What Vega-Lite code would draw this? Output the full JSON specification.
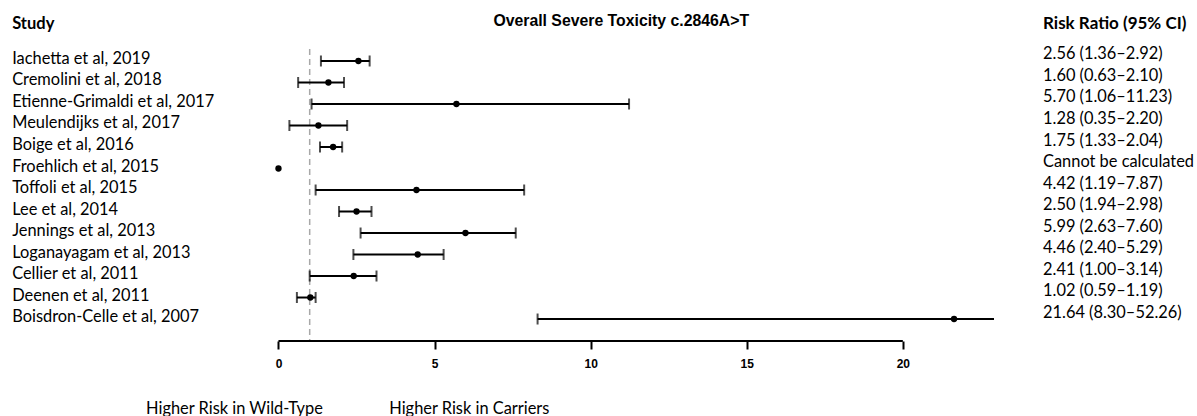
{
  "$schema": "https://vega.github.io/schema/vega-lite/v6.json",
  "padding": {"left": 12, "top": 12, "right": 0, "bottom": 0},
  "spacing": 10,
  "background": "white",
  "config": {
    "view": {"stroke": null},
    "text": {"font": "Lato", "fontSize": 16.4, "color": "black"},
    "axisX": {"domain": false, "grid": false, "ticks": true, "tickSize": 8, "tickWidth": 2, "tickColor": "black", "labelFont": "Liberation Sans", "labelFontSize": 12, "labelFontWeight": "bold", "labelColor": "black", "labelPadding": 9, "title": null}
  },
  "datasets": {
    "studies": [
      {"study": "Iachetta et al, 2019", "est": 2.56, "lo": 1.36, "hi": 2.92, "rr": "2.56 (1.36–2.92)"},
      {"study": "Cremolini et al, 2018", "est": 1.60, "lo": 0.63, "hi": 2.10, "rr": "1.60 (0.63–2.10)"},
      {"study": "Etienne-Grimaldi et al, 2017", "est": 5.70, "lo": 1.06, "hi": 11.23, "rr": "5.70 (1.06–11.23)"},
      {"study": "Meulendijks et al, 2017", "est": 1.28, "lo": 0.35, "hi": 2.20, "rr": "1.28 (0.35–2.20)"},
      {"study": "Boige et al, 2016", "est": 1.75, "lo": 1.33, "hi": 2.04, "rr": "1.75 (1.33–2.04)"},
      {"study": "Froehlich et al, 2015", "est": 0, "lo": null, "hi": null, "rr": "Cannot be calculated"},
      {"study": "Toffoli et al, 2015", "est": 4.42, "lo": 1.19, "hi": 7.87, "rr": "4.42 (1.19–7.87)"},
      {"study": "Lee et al, 2014", "est": 2.50, "lo": 1.94, "hi": 2.98, "rr": "2.50 (1.94–2.98)"},
      {"study": "Jennings et al, 2013", "est": 5.99, "lo": 2.63, "hi": 7.60, "rr": "5.99 (2.63–7.60)"},
      {"study": "Loganayagam et al, 2013", "est": 4.46, "lo": 2.40, "hi": 5.29, "rr": "4.46 (2.40–5.29)"},
      {"study": "Cellier et al, 2011", "est": 2.41, "lo": 1.00, "hi": 3.14, "rr": "2.41 (1.00–3.14)"},
      {"study": "Deenen et al, 2011", "est": 1.02, "lo": 0.59, "hi": 1.19, "rr": "1.02 (0.59–1.19)"},
      {"study": "Boisdron-Celle et al, 2007", "est": 21.64, "lo": 8.30, "hi": 52.26, "rr": "21.64 (8.30–52.26)"}
    ]
  },
  "resolve": {"scale": {"x": "independent"}},
  "vconcat": [
    {
      "width": 743,
      "height": 24,
      "data": {"values": [{}]},
      "layer": [
        {"mark": {"type": "text", "text": "Study", "align": "left", "baseline": "middle", "fontWeight": "bold", "fontSize": 16.5},
         "encoding": {"x": {"datum": -8.53, "type": "quantitative", "scale": {"domain": [-0.88, 22.92], "nice": false, "zero": false}, "axis": null}}},
        {"mark": {"type": "text", "text": "Overall Severe Toxicity c.2846A>T", "align": "center", "baseline": "middle", "font": "Liberation Sans", "fontSize": 15.8, "fontWeight": "bold", "dy": -3.5},
         "encoding": {"x": {"datum": 10.98, "type": "quantitative", "scale": {"domain": [-0.88, 22.92], "nice": false, "zero": false}, "axis": null}}},
        {"mark": {"type": "text", "text": "Risk Ratio (95% CI)", "align": "left", "baseline": "middle", "fontWeight": "bold", "fontSize": 17},
         "encoding": {"x": {"datum": 24.49, "type": "quantitative", "scale": {"domain": [-0.88, 22.92], "nice": false, "zero": false}, "axis": null}}}
      ]
    },
    {
      "width": 743,
      "height": 292,
      "layer": [
        {"data": {"values": [{}]},
         "mark": {"type": "rule", "color": "#a8a8a8", "strokeDash": [6, 4], "strokeWidth": 1.5},
         "encoding": {"x": {"datum": 1, "type": "quantitative", "scale": {"domain": [-0.88, 22.92], "nice": false, "zero": false}, "title": null}}},
        {"data": {"values": [{}]},
         "mark": {"type": "rule", "color": "black", "strokeWidth": 2},
         "encoding": {"x": {"datum": 0, "type": "quantitative", "scale": {"domain": [-0.88, 22.92], "nice": false, "zero": false}, "title": null}, "x2": {"datum": 20}, "y": {"value": "height"}}},
        {"data": {"name": "studies"},
         "mark": {"type": "rule", "color": "black", "strokeWidth": 2, "clip": true},
         "encoding": {
           "x": {"field": "lo", "type": "quantitative", "scale": {"domain": [-0.88, 22.92], "nice": false, "zero": false}, "axis": {"values": [0, 5, 10, 15, 20], "title": null}},
           "x2": {"field": "hi"},
           "y": {"field": "study", "type": "nominal", "scale": {"type": "point", "padding": 0.79, "align": 0.353, "domain": ["Iachetta et al, 2019", "Cremolini et al, 2018", "Etienne-Grimaldi et al, 2017", "Meulendijks et al, 2017", "Boige et al, 2016", "Froehlich et al, 2015", "Toffoli et al, 2015", "Lee et al, 2014", "Jennings et al, 2013", "Loganayagam et al, 2013", "Cellier et al, 2011", "Deenen et al, 2011", "Boisdron-Celle et al, 2007"]}, "axis": null}}},
        {"data": {"name": "studies"},
         "mark": {"type": "tick", "color": "black", "orient": "vertical", "size": 11, "thickness": 2, "clip": true},
         "encoding": {
           "x": {"field": "lo", "type": "quantitative", "scale": {"domain": [-0.88, 22.92], "nice": false, "zero": false}, "title": null},
           "y": {"field": "study", "type": "nominal", "axis": null}}},
        {"data": {"name": "studies"},
         "mark": {"type": "tick", "color": "black", "orient": "vertical", "size": 11, "thickness": 2, "clip": true},
         "encoding": {
           "x": {"field": "hi", "type": "quantitative", "scale": {"domain": [-0.88, 22.92], "nice": false, "zero": false}, "title": null},
           "y": {"field": "study", "type": "nominal", "axis": null}}},
        {"data": {"name": "studies"},
         "mark": {"type": "circle", "color": "black", "opacity": 1, "size": 40},
         "encoding": {
           "x": {"field": "est", "type": "quantitative", "scale": {"domain": [-0.88, 22.92], "nice": false, "zero": false}, "title": null},
           "y": {"field": "study", "type": "nominal", "axis": null}}},
        {"data": {"name": "studies"},
         "mark": {"type": "text", "align": "left", "baseline": "middle", "dy": -2},
         "encoding": {
           "x": {"datum": -8.53, "type": "quantitative", "scale": {"domain": [-0.88, 22.92], "nice": false, "zero": false}, "title": null},
           "y": {"field": "study", "type": "nominal", "axis": null},
           "text": {"field": "study"}}},
        {"data": {"name": "studies"},
         "mark": {"type": "text", "align": "left", "baseline": "middle", "dy": -6.5},
         "encoding": {
           "x": {"datum": 24.49, "type": "quantitative", "scale": {"domain": [-0.88, 22.92], "nice": false, "zero": false}, "title": null},
           "y": {"field": "study", "type": "nominal", "axis": null},
           "text": {"field": "rr"}}}
      ]
    },
    {
      "width": 743,
      "height": 60,
      "data": {"values": [{}]},
      "layer": [
        {"mark": {"type": "text", "text": "Higher Risk in Wild-Type", "align": "left", "baseline": "middle"},
         "encoding": {"x": {"datum": -4.24, "type": "quantitative", "scale": {"domain": [-0.88, 22.92], "nice": false, "zero": false}, "axis": null}}},
        {"mark": {"type": "text", "text": "Higher Risk in Carriers", "align": "left", "baseline": "middle"},
         "encoding": {"x": {"datum": 3.55, "type": "quantitative", "scale": {"domain": [-0.88, 22.92], "nice": false, "zero": false}, "axis": null}}}
      ]
    }
  ]
}
